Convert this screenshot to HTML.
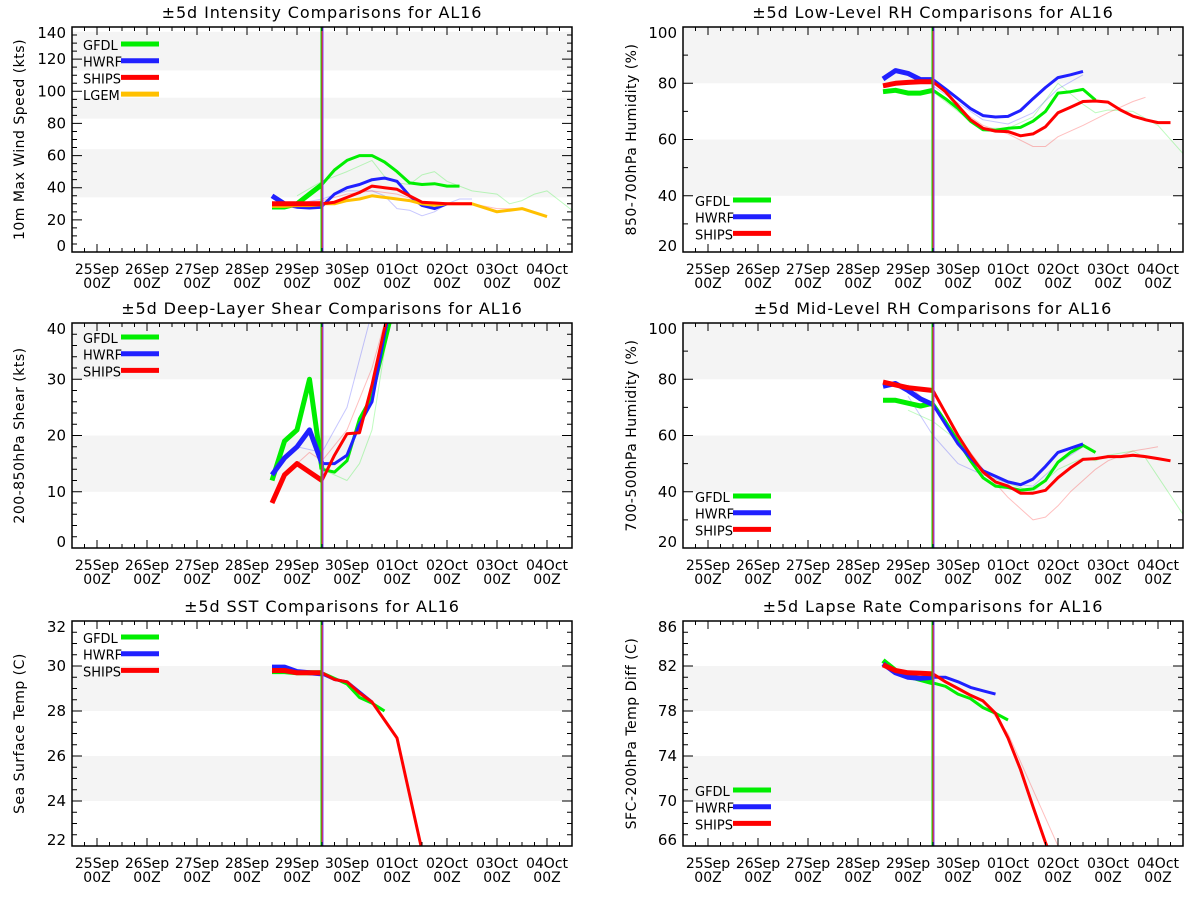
<!DOCTYPE html>
<html><head><meta charset="utf-8">
<style>
body{margin:0;background:#fff;}
svg{display:block;font-family:"DejaVu Sans","Liberation Sans",sans-serif;}
</style></head>
<body>
<svg id="chart" width="1200" height="900" viewBox="0 0 1200 900" xmlns="http://www.w3.org/2000/svg"></svg>
<script>
// ---------- data ----------
const dayLabels = ['25Sep','26Sep','27Sep','28Sep','29Sep','30Sep','01Oct','02Oct','03Oct','04Oct'];
const pastTimes = [3.5,3.75,4.0,4.25,4.5];
const fcTimes = [4.5,4.75,5.0,5.25,5.5,5.75,6.0,6.25,6.5,6.75,7.0,7.25,7.5,7.75,8.0,8.25,8.5,8.75,9.0,9.25,9.5];
const analysisTime = 4.5;

// Intensity
const intGfdlPast = [28,28,30,36,42];
const intGfdlFc = [42,51,57,60,60,56,50,43,42,42.5,41,41];
const intHwrfPast = [35,30,28.5,28,28.5];
const intHwrfFc = [28.5,36,40,42,45,46,44,35,29,27,30];
const intShipsPast = [30,30,30,30,30];
const intShipsFc = [30,31,34,37,41,40,39,35,31,30.5,30,30,30];
const intLgemPast = [29,29,29.5,29.5,30];
const intLgemFc = [30,30,32,33,35,34,33,32,30,29,30,30,30,27.5,25,26,27,24.5,22];
const intGfdlOldT = [4.0,4.5,5.0,5.5,5.75,6.0,6.25,6.5,6.75,7.0,7.5,8.0,8.25,8.5,8.75,9.0,9.5];
const intGfdlOld = [35,44,50,57,47,43,42,48,50,44,38,36,30,32,36,38,26];
const intHwrfOldT = [4.0,4.5,5.0,5.5,5.75,6.0,6.25,6.5,6.75,7.0,7.25,7.5];
const intHwrfOld = [30,33,38,38,35,27,26,22.5,25,30,33,33];
const intShipsOldT = [4.0,4.5,5.0,5.5,6.0,6.5,7.0,7.5,8.0,8.5];
const intShipsOld = [30,32,36,38,36,31,30,30,27,27];

// Low-level RH
const lrhGfdlPast = [77,77.5,76.5,76.5,77.5];
const lrhGfdlFc = [77.5,74.5,71,66.5,63.5,63.3,64,64.3,66.5,70,76.5,77,77.8,74];
const lrhHwrfPast = [81.5,84.5,83.5,81.3,81.3];
const lrhHwrfFc = [81.3,78,74.5,71,68.5,68,68.2,70.3,74.5,78.5,82,83,84.2];
const lrhShipsPast = [79.1,80,80.3,80.5,80.5];
const lrhShipsFc = [80.5,77,72,67,64,63,62.8,61.3,62,64.5,69.5,71.5,73.5,73.7,73.3,70.5,68.3,67,66,66];
const lrhGfdlOldT = [4.5,5.0,5.5,6.0,6.5,7.0,7.5,7.75,8.0,8.5,9.0,9.5];
const lrhGfdlOld = [77,70,64,64,68,80,72.5,69.5,70.5,70,65,55];
const lrhHwrfOldT = [4.5,5.0,5.5,6.0,6.5,7.0,7.5];
const lrhHwrfOld = [79,73,67,65.5,69.5,78,83];
const lrhShipsOldT = [4.5,5.0,5.5,6.0,6.5,6.75,7.0,7.5,8.0,8.5,8.75];
const lrhShipsOld = [78,71,65,62,57.5,57.5,61,65,69.5,73.5,75];

// Shear
const shrGfdlPast = [12,19,21,30,14];
const shrGfdlFc = [14,13.5,15.5,23,27,36,45];
const shrHwrfPast = [13,16,18,21,15];
const shrHwrfFc = [15,15,16.5,22,26,38,48];
const shrShipsPast = [8,13,15,13.5,12];
const shrShipsFc = [12,16.5,20.3,20.5,29,39,48];
const shrGfdlOldT = [4.5,5.0,5.25,5.5,5.75,6.0];
const shrGfdlOld = [14,12,15,21,35,45];
const shrHwrfOldT = [4.0,4.5,5.0,5.5];
const shrHwrfOld = [18,17,25,42];
const shrShipsOldT = [4.0,4.25,4.5,5.0,5.5,5.75];
const shrShipsOld = [15,17,15.5,21,32,40];

// Mid-level RH
const mrhGfdlPast = [72.5,72.5,71.5,70.5,71.5];
const mrhGfdlFc = [71.5,65,58,51,45,42,41.5,40.5,41,44,50.5,54,56.5,54];
const mrhHwrfPast = [77.5,78.5,76,73,71];
const mrhHwrfFc = [71,64,57,52,47.5,45.5,43.5,42.5,44.5,49,54,55.5,57];
const mrhShipsPast = [79,78,77,76.5,76];
const mrhShipsFc = [76,68,60,53,47,43.5,42,39.5,39.5,40.5,45,48.5,51.5,51.8,52.5,52.5,53,52.5,51.8,51];
const mrhGfdlOldT = [4.0,4.5,5.0,5.5,6.0,6.5,7.0,7.5,7.75,8.0,8.5,8.75,9.5];
const mrhGfdlOld = [69,65,58,47,43,40,48,52,51,53,54.5,52,32];
const mrhHwrfOldT = [4.0,4.5,5.0,5.5,6.0,6.5,7.0,7.5];
const mrhHwrfOld = [74,60,50,46,43,42,50,56];
const mrhShipsOldT = [4.0,4.5,5.0,5.5,6.0,6.5,6.75,7.0,7.25,7.5,7.75,8.0,8.5,9.0];
const mrhShipsOld = [78,70,60,48,38,30,31,35,40,44,48,51,54.5,56];

// SST
const sstGfdlPast = [29.75,29.75,29.7,29.7,29.7];
const sstGfdlFc = [29.7,29.45,29.2,28.6,28.35,28.0];
const sstHwrfPast = [29.95,29.95,29.75,29.7,29.65];
const sstHwrfFc = [29.65,29.4,29.3,28.85,28.4];
const sstShipsPast = [29.8,29.8,29.7,29.7,29.7];
const sstShipsFc = [29.7,29.4,29.3,28.8,28.4,27.6,26.8,24.3,21.8];

// Lapse rate
const lapGfdlPast = [82.5,81.6,81.1,80.8,80.5];
const lapGfdlFc = [80.5,80.2,79.5,79.1,78.3,77.8,77.2];
const lapHwrfPast = [82.2,81.4,81.0,80.9,81.0];
const lapHwrfFc = [81.0,81.0,80.6,80.1,79.8,79.5];
const lapShipsPast = [82.1,81.6,81.4,81.35,81.3];
const lapShipsFc = [81.3,80.6,80.0,79.4,78.9,77.8,75.6,72.8,69.5,66.3,63.5];
const lapShipsOldT = [5.5,5.75,6.0,6.5,7.0];
const lapShipsOld = [79,77.5,76,71,66];

// ---------- rendering ----------
const NS = 'http://www.w3.org/2000/svg';
const svg = document.getElementById('chart');
const COL = {gfdl:'#00ee00', hwrf:'#2020ff', ships:'#ff0000', lgem:'#ffc000'};
const BOX_W = 500, BOX_H = 225;

function mk(tag, attrs, parent){
  const e = document.createElementNS(NS, tag);
  for (const k in attrs) e.setAttribute(k, attrs[k]);
  (parent||svg).appendChild(e);
  return e;
}

function drawPanel(cfg, series){
  const g = mk('g', {});
  
  
  const x0 = cfg.x0, y0 = cfg.y0;
  const xs = d => x0 + (d + 0.5) / 10 * BOX_W;
  const ys = v => y0 + BOX_H - (v - cfg.ymin) / (cfg.ymax - cfg.ymin) * BOX_H;

  cfg.bands.forEach(b => {
    const top = ys(Math.min(b[1], cfg.ymax)), bot = ys(Math.max(b[0], cfg.ymin));
    const r = mk('rect', {x:x0, y:top, width:BOX_W, height:bot-top, fill:'#f4f4f4'}, g);
    
    
  });

  const clipId = 'clip-' + cfg.name;
  const cp = mk('clipPath', {id:clipId}, g);
  mk('rect', {x:x0, y:y0, width:BOX_W, height:BOX_H}, cp);
  const lg = mk('g', {'clip-path':'url(#'+clipId+')'}, g);

  series.forEach(s => {
    const pts = s.v.map((v, i) => xs(s.t[i]).toFixed(1) + ',' + ys(v).toFixed(1)).join(' ');
    const p = mk('polyline', {points:pts, fill:'none', stroke:s.c, 'stroke-width':s.w,
      'stroke-linejoin':'round', 'stroke-linecap':'butt', opacity:s.o||1}, lg);
    
    
  });

  const ax = xs(analysisTime);
  [['#00dd00',-1],['#ff2020',0],['#8040ff',1]].forEach(a => {
    const l = mk('line', {x1:ax+a[1], x2:ax+a[1], y1:y0, y2:y0+BOX_H, stroke:a[0], 'stroke-width':1}, g);
    
    
  });

  const box = mk('rect', {x:x0, y:y0, width:BOX_W, height:BOX_H, fill:'none', stroke:'#000', 'stroke-width':1.5}, g);
  
  

  let tp = '';
  for (let q = -2; q <= 38; q++){
    const d = q / 4, x = xs(d);
    if (x <= x0 || x >= x0 + BOX_W) continue;
    const len = (q % 4 === 0) ? 8 : 4;
    tp += `M${x},${y0+BOX_H}v${-len}M${x},${y0}v${len}`;
  }
  for (let v = cfg.ymin; v <= cfg.ymax + 1e-9; v += cfg.minor){
    const y = ys(v);
    const isMaj = Math.abs(((v - cfg.ymin) / cfg.major) - Math.round((v - cfg.ymin) / cfg.major)) < 1e-6;
    const len = isMaj ? 10 : 5;
    tp += `M${x0},${y}h${len}M${x0+BOX_W},${y}h${-len}`;
  }
  mk('path', {d:tp, stroke:'#000', 'stroke-width':1, fill:'none'}, g);

  dayLabels.forEach((lab, i) => {
    const x = xs(i);
    const t = mk('text', {x:x, y:y0+BOX_H+22, 'text-anchor':'middle', 'font-size':14}, g);
    t.textContent = lab;
    
    
    const t2 = mk('text', {x:x, y:y0+BOX_H+36, 'text-anchor':'middle', 'font-size':14}, g);
    t2.textContent = '00Z';
    
    
  });
  const nMaj = Math.round((cfg.ymax - cfg.ymin) / cfg.major);
  for (let k = 0; k <= nMaj; k++){
    const v = cfg.ymin + k * cfg.major;
    let y = ys(v) + 5;
    if (k === 0) y = y0 + BOX_H - 1;
    if (k === nMaj) y = y0 + 11;
    const t = mk('text', {x:x0-6, y:y, 'text-anchor':'end', 'font-size':15}, g);
    t.textContent = String(v);
    
    
  }
  const ti = mk('text', {x:x0+BOX_W/2, y:y0-9, 'text-anchor':'middle', 'font-size':16, 'letter-spacing':'0.9'}, g);
  ti.textContent = cfg.title;
  
  
  const yt = mk('text', {x:0, y:0, 'text-anchor':'middle', 'font-size':14, 'letter-spacing':'0.5',
    transform:`translate(${cfg.ytx},${y0+BOX_H/2}) rotate(-90)`}, g);
  yt.textContent = cfg.ytitle;
  
  
  cfg.legend.forEach((L, i) => {
    const y = cfg.ly + i * 16.7;
    const t = mk('text', {x:cfg.lx, y:y+6, 'font-size':13}, g);
    t.textContent = L[0];
    
    
    const l = mk('line', {x1:cfg.lx+38, x2:cfg.lx+76, y1:y, y2:y, stroke:L[1], 'stroke-width':5}, g);
    
    
  });
}

function std(gP, gF, hP, hF, sP, sF, extra){
  const tf = a => fcTimes.slice(0, a.length);
  const arr = (extra||[]).slice();
  arr.push(
    {n:'gfdl-past', t:pastTimes, v:gP, c:COL.gfdl, w:5},
    {n:'hwrf-past', t:pastTimes, v:hP, c:COL.hwrf, w:5},
    {n:'ships-past', t:pastTimes, v:sP, c:COL.ships, w:5},
    {n:'gfdl-forecast', t:tf(gF), v:gF, c:COL.gfdl, w:3},
    {n:'hwrf-forecast', t:tf(hF), v:hF, c:COL.hwrf, w:3},
    {n:'ships-forecast', t:tf(sF), v:sF, c:COL.ships, w:3}
  );
  return arr;
}
const old = (n, t, v, c) => ({n:n, t:t, v:v, c:c, w:1, o:0.25});
const LG3 = [['GFDL',COL.gfdl],['HWRF',COL.hwrf],['SHIPS',COL.ships]];

(function(){
  const s = [
    old('gfdl-previous', intGfdlOldT, intGfdlOld, COL.gfdl),
    old('hwrf-previous', intHwrfOldT, intHwrfOld, COL.hwrf),
    old('ships-previous', intShipsOldT, intShipsOld, COL.ships),
    {n:'gfdl-past', t:pastTimes, v:intGfdlPast, c:COL.gfdl, w:5},
    {n:'hwrf-past', t:pastTimes, v:intHwrfPast, c:COL.hwrf, w:5},
    {n:'lgem-past', t:pastTimes, v:intLgemPast, c:COL.lgem, w:5},
    {n:'ships-past', t:pastTimes, v:intShipsPast, c:COL.ships, w:5},
    {n:'gfdl-forecast', t:fcTimes.slice(0,intGfdlFc.length), v:intGfdlFc, c:COL.gfdl, w:3},
    {n:'hwrf-forecast', t:fcTimes.slice(0,intHwrfFc.length), v:intHwrfFc, c:COL.hwrf, w:3},
    {n:'lgem-forecast', t:fcTimes.slice(0,intLgemFc.length), v:intLgemFc, c:COL.lgem, w:3},
    {n:'ships-forecast', t:fcTimes.slice(0,intShipsFc.length), v:intShipsFc, c:COL.ships, w:3}
  ];
  drawPanel({name:'intensity-panel', x0:72, y0:27, ymin:0, ymax:140, major:20, minor:5,
    bands:[[34,64],[83,96],[113,137]], title:'±5d Intensity Comparisons for AL16',
    ytitle:'10m Max Wind Speed (kts)', ytx:24, lx:83, ly:44,
    legend:[['GFDL',COL.gfdl],['HWRF',COL.hwrf],['SHIPS',COL.ships],['LGEM',COL.lgem]]}, s);
})();

drawPanel({name:'low-level-rh-panel', x0:683, y0:27, ymin:20, ymax:100, major:20, minor:10,
  bands:[[80,100],[40,60]], title:'±5d Low-Level RH Comparisons for AL16',
  ytitle:'850-700hPa Humidity (%)', ytx:636, lx:695, ly:200, legend:LG3},
  std(lrhGfdlPast, lrhGfdlFc, lrhHwrfPast, lrhHwrfFc, lrhShipsPast, lrhShipsFc, [
    old('gfdl-previous', lrhGfdlOldT, lrhGfdlOld, COL.gfdl),
    old('hwrf-previous', lrhHwrfOldT, lrhHwrfOld, COL.hwrf),
    old('ships-previous', lrhShipsOldT, lrhShipsOld, COL.ships)]));

drawPanel({name:'shear-panel', x0:72, y0:323, ymin:0, ymax:40, major:10, minor:2,
  bands:[[30,40],[10,20]], title:'±5d Deep-Layer Shear Comparisons for AL16',
  ytitle:'200-850hPa Shear (kts)', ytx:24, lx:83, ly:337, legend:LG3},
  std(shrGfdlPast, shrGfdlFc, shrHwrfPast, shrHwrfFc, shrShipsPast, shrShipsFc, [
    old('gfdl-previous', shrGfdlOldT, shrGfdlOld, COL.gfdl),
    old('hwrf-previous', shrHwrfOldT, shrHwrfOld, COL.hwrf),
    old('ships-previous', shrShipsOldT, shrShipsOld, COL.ships)]));

drawPanel({name:'mid-level-rh-panel', x0:683, y0:323, ymin:20, ymax:100, major:20, minor:10,
  bands:[[80,100],[40,60]], title:'±5d Mid-Level RH Comparisons for AL16',
  ytitle:'700-500hPa Humidity (%)', ytx:636, lx:695, ly:496, legend:LG3},
  std(mrhGfdlPast, mrhGfdlFc, mrhHwrfPast, mrhHwrfFc, mrhShipsPast, mrhShipsFc, [
    old('gfdl-previous', mrhGfdlOldT, mrhGfdlOld, COL.gfdl),
    old('hwrf-previous', mrhHwrfOldT, mrhHwrfOld, COL.hwrf),
    old('ships-previous', mrhShipsOldT, mrhShipsOld, COL.ships)]));

drawPanel({name:'sst-panel', x0:72, y0:621, ymin:22, ymax:32, major:2, minor:0.5,
  bands:[[28,30],[24,26]], title:'±5d SST Comparisons for AL16',
  ytitle:'Sea Surface Temp (C)', ytx:24, lx:83, ly:637, legend:LG3},
  std(sstGfdlPast, sstGfdlFc, sstHwrfPast, sstHwrfFc, sstShipsPast, sstShipsFc, []));

drawPanel({name:'lapse-rate-panel', x0:683, y0:621, ymin:66, ymax:86, major:4, minor:1,
  bands:[[78,82],[70,74]], title:'±5d Lapse Rate Comparisons for AL16',
  ytitle:'SFC-200hPa Temp Diff (C)', ytx:636, lx:695, ly:790, legend:LG3},
  std(lapGfdlPast, lapGfdlFc, lapHwrfPast, lapHwrfFc, lapShipsPast, lapShipsFc, [
    old('ships-previous', lapShipsOldT, lapShipsOld, COL.ships)]));
</script>
</body></html>
